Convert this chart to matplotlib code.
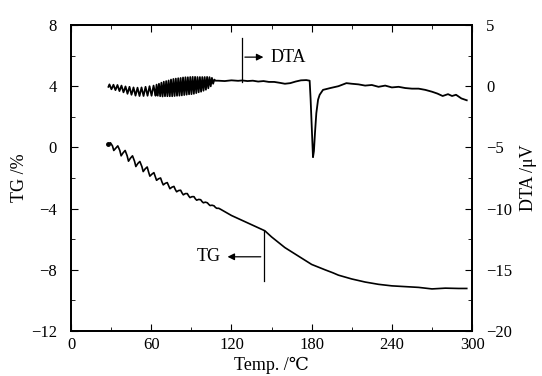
import matplotlib
matplotlib.use("Agg")
import matplotlib.pyplot as plt
from matplotlib.ticker import MultipleLocator

plt.rcParams['font.family'] = ['Liberation Serif', 'DejaVu Serif']
plt.rcParams['axes.unicode_minus'] = True

# TG curve (left axis, %)
tg_temp = [28.0, 29.5, 31.0, 32.0, 33.5, 35.0, 36.5, 37.5, 39.0, 40.5, 42.0, 43.0,
           44.5, 46.0, 47.5, 48.5, 50.0, 51.5, 53.0, 54.0, 55.5, 57.0, 58.0, 59.0,
           60.5, 62.0, 63.0, 64.0, 65.5, 67.0, 68.0, 69.0, 70.5, 72.0, 73.0, 74.0,
           75.5, 77.0, 78.0, 79.0, 80.5, 82.0, 83.0, 84.0, 85.5, 87.0, 88.0, 89.0,
           90.5, 92.0, 93.0, 94.0, 95.5, 97.0, 98.0, 99.0, 100.5, 102.0, 103.0, 104.0,
           105.5, 107.0, 108.0, 109.0, 110.5, 112.0, 120, 130, 140, 145, 150, 160,
           170, 180, 190, 196, 200, 210, 220, 230, 240, 250, 260, 270, 280, 290, 296]
tg_val = [0.20, 0.30, 0.10, -0.20, -0.05, 0.10, -0.20, -0.55, -0.35, -0.20, -0.55, -0.90,
          -0.70, -0.55, -0.90, -1.25, -1.05, -0.92, -1.25, -1.58, -1.40, -1.28, -1.60, -1.88,
          -1.75, -1.65, -1.90, -2.15, -2.05, -2.00, -2.25, -2.45, -2.35, -2.30, -2.50, -2.70,
          -2.60, -2.55, -2.75, -2.90, -2.82, -2.80, -2.97, -3.10, -3.02, -3.02, -3.17, -3.28,
          -3.22, -3.22, -3.36, -3.45, -3.40, -3.42, -3.54, -3.62, -3.58, -3.62, -3.72, -3.80,
          -3.78, -3.82, -3.92, -3.98, -3.98, -4.05, -4.45, -4.85, -5.25, -5.45, -5.85, -6.55,
          -7.10, -7.65, -8.00, -8.20, -8.35, -8.60, -8.80, -8.95, -9.05, -9.10, -9.15, -9.25,
          -9.20, -9.22, -9.22]

# DTA curve (right axis, uV)
dta_temp = [28.0, 28.75, 29.5, 30.25, 31.0, 31.75, 32.5, 33.25, 34.0, 34.75, 35.5, 36.25,
            37.0, 37.75, 38.5, 39.25, 40.0, 40.75, 41.5, 42.25, 43.0, 43.75, 44.5, 45.25,
            46.0, 46.75, 47.5, 48.25, 49.0, 49.75, 50.5, 51.25, 52.0, 52.75, 53.5, 54.25,
            55.0, 55.75, 56.5, 57.25, 58.0, 58.75, 59.5, 60.25, 61.0, 61.75, 62.5, 63.25,
            64.0, 64.9, 65.8, 66.7, 67.6, 68.5, 69.4, 70.3, 71.2, 72.1, 73.0, 73.9,
            74.8, 75.7, 76.6, 77.5, 78.4, 79.3, 80.2, 81.1, 82.0, 82.9, 83.8, 84.7,
            85.6, 86.5, 87.4, 88.3, 89.2, 90.1, 91.0, 91.9, 92.8, 93.7, 94.6, 95.5,
            96.4, 97.3, 98.2, 99.1, 100.0, 100.9, 101.8, 102.7, 103.6, 104.5, 105.4, 106.3,
            107.2, 108.1, 110, 115, 120, 125, 128, 132, 136, 140, 144, 148,
            152, 156, 160, 164, 168, 172, 176, 178.5, 179.2, 180.0, 181.0, 181.7,
            182.5, 183.5, 184.8, 186.0, 188.5, 194, 200, 206, 210, 215, 220, 225,
            230, 235, 240, 245, 250, 255, 260, 265, 270, 274, 278, 282,
            285, 288, 292, 296]
dta_val = [-0.05, 0.15, -0.05, -0.25, -0.08, 0.12, -0.10, -0.32, -0.12, 0.10, -0.15, -0.40,
           -0.18, 0.05, -0.22, -0.50, -0.28, -0.02, -0.30, -0.62, -0.35, -0.05, -0.38, -0.70,
           -0.42, -0.10, -0.43, -0.77, -0.45, -0.12, -0.45, -0.80, -0.45, -0.10, -0.44, -0.80,
           -0.42, -0.05, -0.40, -0.78, -0.38, 0.00, -0.37, -0.78, -0.35, 0.05, -0.34, -0.78,
           0.13, -0.78, 0.20, -0.82, 0.29, -0.84, 0.37, -0.82, 0.42, -0.82, 0.47, -0.82,
           0.54, -0.82, 0.59, -0.80, 0.62, -0.78, 0.65, -0.77, 0.67, -0.75, 0.71, -0.72,
           0.73, -0.69, 0.73, -0.66, 0.75, -0.65, 0.76, -0.62, 0.76, -0.56, 0.75, -0.50,
           0.75, -0.45, 0.75, -0.37, 0.75, -0.29, 0.76, -0.17, 0.74, -0.01, 0.68, 0.20,
           0.54, 0.45, 0.45, 0.42, 0.48, 0.44, 0.47, 0.42, 0.45, 0.38, 0.42, 0.35,
           0.35, 0.28, 0.20, 0.25, 0.38, 0.48, 0.50, 0.45, -1.0, -3.2, -5.8, -5.3,
           -3.8, -2.2, -1.1, -0.7, -0.3, -0.15, 0.0, 0.25, 0.2, 0.15, 0.05, 0.1,
           -0.05, 0.05, -0.1, -0.05, -0.15, -0.2, -0.2, -0.3, -0.45, -0.6, -0.8, -0.65,
           -0.8, -0.7, -1.0, -1.15]

# annotation markers
dta_mark_x, dta_mark_y0, dta_mark_y1, dta_arrow_y, dta_arrow_end = 128, 7.15, 4.3, 5.9, 146
tg_mark_x, tg_mark_y0, tg_mark_y1, tg_arrow_y, tg_arrow_end = 144, -5.45, -8.7, -7.15, 115

fig = plt.figure(figsize=(5.42, 3.76), dpi=100)
ax = fig.add_axes([0.131, 0.1197, 0.74, 0.8138])
ax2 = ax.twinx()

ax.plot(tg_temp, tg_val, color='black', lw=1.2)
ax.plot(tg_temp[0], tg_val[0], 'o', color='black', ms=2.5)
ax2.plot(dta_temp, dta_val, color='black', lw=1.3)

ax.set_xlim(0, 300)
ax.set_ylim(-12, 8)
ax2.set_ylim(-20, 5)

ax.xaxis.set_major_locator(MultipleLocator(60))
ax.xaxis.set_minor_locator(MultipleLocator(30))
ax.yaxis.set_major_locator(MultipleLocator(4))
ax.yaxis.set_minor_locator(MultipleLocator(2))
ax2.yaxis.set_major_locator(MultipleLocator(5))
ax2.yaxis.set_minor_locator(MultipleLocator(2.5))

ax.tick_params(axis='both', which='both', direction='in', labelsize=12, top=True)
ax.tick_params(axis='y', which='major', length=5, pad=10)
ax.tick_params(axis='x', which='major', length=5, pad=4)
ax.tick_params(which='minor', length=3)
ax2.tick_params(axis='y', which='both', direction='in', labelsize=12, pad=10)
ax2.tick_params(which='major', length=5)
ax2.tick_params(which='minor', length=3)

for a in (ax, ax2):
    for s in a.spines.values():
        s.set_linewidth(1.3)

ax.set_xlabel('Temp. /℃', fontsize=13, labelpad=3)
ax.set_ylabel('TG /%', fontsize=13, labelpad=2)
ax2.set_ylabel('DTA /μV', fontsize=13, labelpad=6)

# DTA marker and arrow
ax.plot([dta_mark_x, dta_mark_x], [dta_mark_y0, dta_mark_y1], color='black', lw=0.9)
ax.annotate('', xy=(dta_arrow_end, dta_arrow_y), xytext=(dta_mark_x, dta_arrow_y),
            arrowprops=dict(arrowstyle='-|>', color='black', lw=0.9, mutation_scale=10))
ax.text(dta_arrow_end + 3, dta_arrow_y, 'DTA', fontsize=13, va='center', ha='left')

# TG marker and arrow
ax.plot([tg_mark_x, tg_mark_x], [tg_mark_y0, tg_mark_y1], color='black', lw=0.9)
ax.annotate('', xy=(tg_arrow_end, tg_arrow_y), xytext=(tg_mark_x, tg_arrow_y),
            arrowprops=dict(arrowstyle='-|>', color='black', lw=0.9, mutation_scale=10))
ax.text(tg_arrow_end - 3, tg_arrow_y, 'TG', fontsize=13, va='center', ha='right')

fig.savefig('out.png', dpi=100)
